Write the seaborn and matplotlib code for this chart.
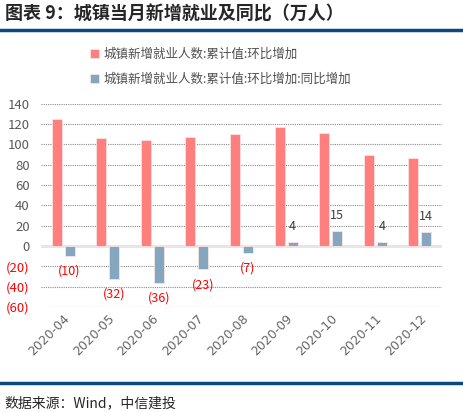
import matplotlib
matplotlib.use("Agg")
import matplotlib.pyplot as plt
from matplotlib.lines import Line2D
from matplotlib.ticker import FuncFormatter
import pandas as pd
import seaborn as sns

months = ["2020-04", "2020-05", "2020-06", "2020-07", "2020-08",
          "2020-09", "2020-10", "2020-11", "2020-12"]
mom_values = [125, 106, 104, 107, 110, 117, 111, 90, 87]
yoy_values = [-10, -32, -36, -23, -7, 4, 15, 4, 14]
series_names = ["城镇新增就业人数:累计值:环比增加",
                "城镇新增就业人数:累计值:环比增加:同比增加"]
title = "图表 9：城镇当月新增就业及同比（万人）"
source = "数据来源：Wind，中信建投"

sns.set_style("white")
plt.rcParams["font.family"] = ["Noto Sans CJK SC", "DejaVu Sans"]
plt.rcParams["axes.unicode_minus"] = False

df = pd.DataFrame({
    "month": months * 2,
    "value": mom_values + yoy_values,
    "series": [series_names[0]] * len(months) + [series_names[1]] * len(months),
})

fig = plt.figure(figsize=(4.64, 4.12), dpi=100)
ax = fig.add_axes([0.088, 0.255, 0.865, 0.493])

sns.barplot(data=df, x="month", y="value", hue="series",
            palette=["#FF7F7F", "#84A6BF"], saturation=1, width=0.58, gap=0.22,
            edgecolor="#fbe3e3", linewidth=0.6, ax=ax, zorder=3)

ax.set_ylim(-60, 140)
ax.set_yticks(range(-60, 141, 20))
ax.yaxis.set_major_formatter(FuncFormatter(
    lambda v, p: f"({abs(int(v))})" if v < 0 else f"{int(v)}"))
ax.grid(axis="y", color="#8a8a8a", linestyle=(0, (1, 1)), linewidth=0.8, zorder=0)
ax.axhline(0, color="#e6e6e6", linewidth=2.2, zorder=2)
for s in ax.spines.values():
    s.set_visible(False)
ax.set_xlabel("")
ax.set_ylabel("")
ax.tick_params(axis="both", length=0, labelsize=9.5, colors="#595959")
ax.tick_params(axis="y", pad=8)
for lab in ax.get_yticklabels():
    if lab.get_text().startswith("("):
        lab.set_color("#FF0000")
for lab in ax.get_xticklabels():
    lab.set_rotation(45)
    lab.set_ha("right")
    lab.set_rotation_mode("anchor")
    lab.set_fontsize(9)
    lab.set_fontfamily("DejaVu Sans")
    lab.set_color("#666666")

# value labels for the yoy series
for bar, v in zip(ax.containers[1], yoy_values):
    x = bar.get_x() + bar.get_width() / 2
    if v < 0:
        ax.annotate(f"({abs(v)})", (x, v), xytext=(0, -11), textcoords="offset points",
                    ha="center", va="center", fontsize=9, color="#FF0000")
    else:
        ax.annotate(f"{v}", (x, v), xytext=(0, 11), textcoords="offset points",
                    ha="center", va="center", fontsize=9, color="#404040")

leg = ax.legend(loc="upper left", bbox_to_anchor=(0.095, 1.332), frameon=False,
                fontsize=9, handlelength=0.7, handleheight=0.7,
                handletextpad=0.4, labelspacing=1.0)
for t in leg.get_texts():
    t.set_color("#505050")

fig.text(0.01, 0.966, title, fontsize=13, fontweight="bold", va="center", ha="left")
fig.add_artist(Line2D([0, 1], [0.927, 0.927], color="#0B4A7E", linewidth=2.5))
fig.add_artist(Line2D([0, 1], [0.070, 0.070], color="#0B4A7E", linewidth=2.5))
fig.text(0.01, 0.022, source, fontsize=10, style="italic", va="center", ha="left")

fig.savefig("out.png", dpi=100)
